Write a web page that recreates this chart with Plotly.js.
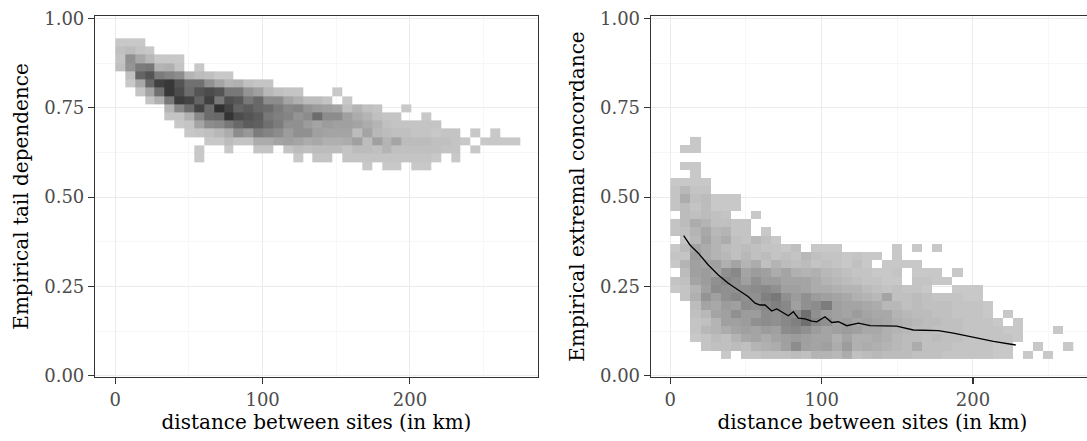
<!DOCTYPE html>
<html>
<head>
<meta charset="utf-8">
<script src="https://cdn.plot.ly/plotly-3.0.1.min.js"></script>
<style>
html, body { margin: 0; padding: 0; overflow: hidden; background: #ffffff; }
#chart { width: 1094px; height: 441px; }
</style>
</head>
<body>
<div id="chart"></div>
<script>
// ---------- Left panel: empirical tail dependence (2D histogram counts) ----------
const tailDistCenters = [3.35, 10.05, 16.75, 23.45, 30.15, 36.85, 43.55, 50.25, 56.95, 63.65,
  70.35, 77.05, 83.75, 90.45, 97.15, 103.85, 110.55, 117.25, 123.95, 130.65,
  137.35, 144.05, 150.75, 157.45, 164.15, 170.85, 177.55, 184.25, 190.95, 197.65,
  204.35, 211.05, 217.75, 224.45, 231.15, 237.85, 244.55, 251.25, 257.95, 264.65, 271.35];
// rows from top (high dependence) to bottom
const tailDepCenters = [0.933, 0.910, 0.887, 0.864, 0.841, 0.818, 0.795, 0.772,
  0.749, 0.726, 0.703, 0.680, 0.656, 0.633, 0.610, 0.587];
const tailCounts = [
  [1,1,1],
  [3,4,2,1],
  [2,15,9,5,1,1,1],
  [3,14,20,21,6,7,2,0,1],
  [0,3,26,30,20,18,16,6,4,3,1,1],
  [0,1,9,25,35,37,30,23,23,15,10,6,7,3,2,2],
  [0,0,2,10,23,37,32,24,30,32,30,21,21,14,11,5,3,2,2,0,0,0,1],
  [0,0,0,2,7,21,36,34,26,35,21,31,29,21,25,16,16,10,7,4,4,2,0,1],
  [0,0,0,0,0,6,17,24,34,24,39,34,26,28,25,24,20,17,18,14,12,11,10,3,6,3,2,0,0,1],
  [0,0,0,0,0,2,2,7,17,24,25,38,32,30,28,21,19,18,14,16,24,16,16,11,8,6,3,2,2,0,0,1],
  [0,0,0,0,0,0,1,2,10,16,17,21,25,28,27,23,20,15,15,12,10,12,11,11,10,8,6,3,2,2,2,2,2],
  [0,0,0,0,0,0,0,1,2,3,5,8,16,13,20,18,16,12,15,15,11,10,10,10,4,10,5,4,3,3,2,2,1,2,2,0,1,0,1],
  [0,0,0,0,0,0,0,0,0,1,1,4,2,2,8,8,10,11,10,8,9,7,7,8,11,4,11,6,10,4,4,4,3,3,2,1,0,1,1,1,1],
  [0,0,0,0,0,0,0,0,1,0,0,1,0,0,2,2,0,2,4,3,4,4,4,2,4,4,3,6,3,3,3,3,3,2,2,0,1],
  [0,0,0,0,0,0,0,0,1,0,0,0,0,0,0,0,0,0,1,0,2,2,0,2,2,2,2,2,2,2,2,2,1,0,1],
  [0,0,0,0,0,0,0,0,0,0,0,0,0,0,0,0,0,0,0,0,0,0,0,0,0,1,0,1,1,0,1,1]
];

// ---------- Right panel: empirical extremal concordance ----------
const concDistCenters = [3.33, 9.99, 16.65, 23.31, 29.97, 36.63, 43.29, 49.95, 56.61, 63.27,
  69.93, 76.59, 83.25, 89.91, 96.57, 103.23, 109.89, 116.55, 123.21, 129.87,
  136.53, 143.19, 149.85, 156.51, 163.17, 169.83, 176.49, 183.15, 189.81, 196.47,
  203.13, 209.79, 216.45, 223.11, 229.77, 236.43, 243.09, 249.75, 256.41, 263.07];
// rows from top to bottom
const concCenters = [0.657, 0.634, 0.611, 0.588, 0.565, 0.542, 0.519, 0.496, 0.473,
  0.450, 0.427, 0.404, 0.381, 0.358, 0.335, 0.312, 0.289, 0.266, 0.243, 0.220,
  0.197, 0.174, 0.151, 0.128, 0.105, 0.082, 0.059];
const concCounts = [
  [0,0,1],
  [0,1,1],
  [],
  [0,1,1],
  [0,0,1],
  [1,1,1,1],
  [2,5,2,2],
  [2,8,3,4,1,1,1],
  [2,4,2,4,1,1,1],
  [0,4,3,4,3,2,0,0,1],
  [2,4,8,6,3,3,2,2],
  [2,3,6,9,5,6,2,2,0,1],
  [0,2,5,10,6,8,3,2,5,3,1],
  [1,4,10,8,6,4,3,4,3,2,2,1,3,0,1,1,1,0,0,0,0,0,1,0,1,0,1],
  [2,2,12,8,6,5,3,5,3,4,2,3,2,5,3,2,2,1,2,1,1,0,1],
  [1,6,11,10,11,7,10,6,8,3,6,4,3,4,2,3,2,1,3,1,0,1,1,1,1],
  [0,4,11,12,10,15,17,10,12,11,8,10,7,6,7,5,4,3,2,2,1,1,2,0,1,1,1,0,1],
  [2,3,10,12,15,17,15,11,15,12,12,10,10,10,8,6,5,4,3,2,2,1,1,0,2,2,1,1],
  [1,2,6,11,16,15,15,15,16,17,15,11,11,10,8,8,7,6,6,4,3,2,3,2,2,1,0,0,1,1,1],
  [0,2,7,14,11,15,17,15,15,19,21,15,12,15,12,11,10,9,7,6,5,10,3,3,4,3,2,2,2,1,1],
  [0,0,4,10,9,12,11,16,15,17,19,17,11,15,16,20,11,10,10,9,8,5,5,3,4,3,3,3,2,2,2,1],
  [0,0,3,5,10,11,15,12,12,16,15,17,16,23,15,12,11,10,12,10,9,9,6,5,4,4,3,3,2,2,2,1,0,1],
  [0,0,2,3,6,11,11,12,15,16,15,17,19,23,17,15,11,12,10,11,10,9,7,6,5,4,4,3,3,2,2,2,1,0,1],
  [0,0,2,5,6,8,10,11,10,12,11,16,17,15,12,10,11,12,11,9,9,7,6,5,4,4,3,3,3,2,2,2,2,1,1,0,0,0,1],
  [0,0,1,2,4,3,6,9,10,8,10,11,12,11,10,10,7,10,7,7,8,7,5,4,4,3,4,3,3,2,2,2,2,2,1],
  [0,0,0,2,3,3,4,3,6,7,8,11,16,11,10,11,8,12,7,8,7,6,5,4,8,3,3,3,2,2,2,2,1,1,0,0,1,0,0,1],
  [0,0,0,0,0,1,0,2,2,3,3,3,4,3,6,6,5,8,3,4,5,4,4,4,3,3,3,2,2,2,2,2,1,1,0,1,0,1]
];

// smoothed mean concordance by distance (black line)
const lineDist = [8.8, 13.0, 18.5, 25.1, 31.7, 38.3, 44.9, 51.6, 56.0, 59.3, 62.6, 67.0, 70.3,
  74.7, 78.0, 81.3, 84.6, 89.0, 93.5, 96.8, 102.2, 106.7, 111.1, 116.6, 124.3, 132.0,
  149.6, 160.6, 177.1, 187.1, 200.3, 213.5, 228.3];
const lineConc = [0.392, 0.366, 0.343, 0.310, 0.282, 0.259, 0.240, 0.221, 0.203, 0.198, 0.198,
  0.181, 0.187, 0.175, 0.168, 0.179, 0.161, 0.159, 0.153, 0.151, 0.165, 0.149, 0.151,
  0.140, 0.147, 0.140, 0.139, 0.128, 0.126, 0.119, 0.107, 0.096, 0.086];

// build z matrices (pad rows, 0 -> empty), in ascending y order
function buildZ(rows, ncol) {
  return rows.map(r => {
    const out = [];
    for (let i = 0; i < ncol; i++) {
      const v = r[i] || 0;
      out.push(v > 0 ? v : null);
    }
    return out;
  }).reverse();
}
const zTail = buildZ(tailCounts, tailDistCenters.length);
const zConc = buildZ(concCounts, concDistCenters.length);
const yTail = tailDepCenters.slice().reverse();
const yConc = concCenters.slice().reverse();

const greyScale = [[0, 'rgb(200,200,200)'], [1, 'rgb(44,44,44)']];

const traces = [
  { type: 'heatmap', x: tailDistCenters, y: yTail, z: zTail, colorscale: greyScale,
    zmin: 1, zmax: 40, showscale: false, hoverinfo: 'skip', xaxis: 'x', yaxis: 'y' },
  { type: 'heatmap', x: concDistCenters, y: yConc, z: zConc, colorscale: greyScale,
    zmin: 1, zmax: 40, showscale: false, hoverinfo: 'skip', xaxis: 'x2', yaxis: 'y2' },
  { type: 'scatter', mode: 'lines', x: lineDist, y: lineConc, xaxis: 'x2', yaxis: 'y2',
    line: { color: '#000000', width: 1.3 }, hoverinfo: 'skip', showlegend: false }
];

const fontFam = 'DejaVu Serif, serif';
function axisCommon() {
  return {
    showline: true, mirror: true, linecolor: '#333333', linewidth: 1.1,
    ticks: 'outside', ticklen: 6, tickwidth: 1.1, tickcolor: '#333333',
    tickfont: { family: fontFam, size: 18, color: '#4D4D4D' },
    showgrid: true, gridcolor: '#EBEBEB', gridwidth: 1,
    zeroline: false, automargin: false, fixedrange: true
  };
}
function xAxis(domain, range, anchor) {
  return Object.assign(axisCommon(), {
    domain: domain, range: range, anchor: anchor,
    tickmode: 'linear', tick0: 0, dtick: 100,
    minor: { dtick: 50, tick0: 0, showgrid: true, gridcolor: '#F2F2F2', gridwidth: 0.6, ticks: '' },
    title: { text: 'distance between sites (in km)', font: { family: fontFam, size: 20, color: '#000000' }, standoff: 6 }
  });
}
function yAxis(title, anchor) {
  return Object.assign(axisCommon(), {
    domain: [0, 1], range: [-0.0036, 1.007], anchor: anchor,
    tickmode: 'linear', tick0: 0, dtick: 0.25, tickformat: '.2f',
    minor: { dtick: 0.125, tick0: 0, showgrid: true, gridcolor: '#F2F2F2', gridwidth: 0.6, ticks: '' },
    title: { text: title, font: { family: fontFam, size: 20, color: '#000000' }, standoff: 10 }
  });
}

const layout = {
  width: 1094, height: 441,
  margin: { l: 95, r: 0, t: 16, b: 64, pad: 0 },
  paper_bgcolor: '#ffffff', plot_bgcolor: '#ffffff',
  showlegend: false,
  xaxis: xAxis([0, 0.4434], [-13.78, 286.9], 'y'),
  yaxis: yAxis('Empirical tail dependence', 'x'),
  xaxis2: xAxis([0.5563, 1], [-12.95, 280.0], 'y2'),
  yaxis2: yAxis('Empirical extremal concordance', 'x2')
};

Plotly.newPlot('chart', traces, layout, { staticPlot: true, displayModeBar: false });
</script>
</body>
</html>
